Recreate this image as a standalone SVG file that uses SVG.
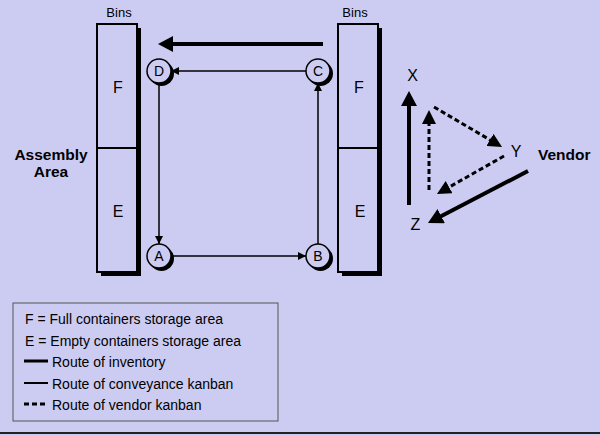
<svg xmlns="http://www.w3.org/2000/svg" width="600" height="436" viewBox="0 0 600 436">
<defs>
<style>
text{font-family:"Liberation Sans",Arial,sans-serif;fill:#000}
.bin{fill:#CCCCF2;stroke:#000;stroke-width:2}
.shadow{fill:#000}
.node{fill:#CCCCF2;stroke:#000;stroke-width:1.5}
.thin{stroke:#000;stroke-width:1.5;fill:none}
.thick{stroke:#000;stroke-width:4;fill:none}
.dash{stroke:#000;stroke-width:3;stroke-dasharray:5 3;fill:none}
.lbl{font-size:14px;text-anchor:middle}
.big{font-size:16px;text-anchor:middle}
.xyz{font-size:16px;text-anchor:middle}
.bins{font-size:13px;text-anchor:middle}
.bold{font-weight:bold;font-size:15.5px}
.leg{font-size:14px}
</style>
<marker id="ahThin" markerUnits="userSpaceOnUse" markerWidth="9" markerHeight="8" refX="8" refY="4" orient="auto"><path d="M0,0 L8,4 L0,8 z" fill="#000"/></marker>
<marker id="ahThick" markerUnits="userSpaceOnUse" markerWidth="16" markerHeight="16" refX="3" refY="8" orient="auto"><path d="M0,0 L15,8 L0,16 z" fill="#000"/></marker>
<marker id="ahDash" markerUnits="userSpaceOnUse" markerWidth="15" markerHeight="14" refX="2" refY="7" orient="auto"><path d="M0,0 L14,7 L0,14 z" fill="#000"/></marker>
</defs>
<rect x="0" y="0" width="600" height="436" fill="#CCCCF2"/>

<g id="bins-assembly">
<rect class="shadow" x="101" y="28" width="40" height="248"/>
<rect class="bin" x="97" y="24" width="40" height="248"/>
<line x1="97" y1="148" x2="137" y2="148" stroke="#000" stroke-width="2"/>
<text class="bins" x="119" y="17">Bins</text>
<text class="big" x="118" y="93">F</text>
<text class="big" x="118" y="217">E</text>
</g>

<g id="bins-vendor">
<rect class="shadow" x="342" y="28" width="40" height="248"/>
<rect class="bin" x="338" y="24" width="40" height="248"/>
<line x1="338" y1="148" x2="378" y2="148" stroke="#000" stroke-width="2"/>
<text class="bins" x="355" y="17">Bins</text>
<text class="big" x="359" y="93">F</text>
<text class="big" x="360" y="217">E</text>
</g>

<g id="assembly-label">
<text class="bold" x="51" y="160" text-anchor="middle">Assembly</text>
<text class="bold" x="51" y="177" text-anchor="middle">Area</text>
</g>

<g id="vendor-label">
<text class="bold" x="538" y="160">Vendor</text>
</g>

<g id="node-D">
<circle class="shadow" cx="161.5" cy="73.5" r="12.5"/>
<circle class="node" cx="159" cy="71" r="12"/>
<text class="lbl" x="159" y="76">D</text>
</g>
<g id="node-C">
<circle class="shadow" cx="320.5" cy="73.5" r="12.5"/>
<circle class="node" cx="318" cy="71" r="12"/>
<text class="lbl" x="318" y="76">C</text>
</g>
<g id="node-A">
<circle class="shadow" cx="161.5" cy="258.5" r="12.5"/>
<circle class="node" cx="159" cy="256" r="12"/>
<text class="lbl" x="159" y="261">A</text>
</g>
<g id="node-B">
<circle class="shadow" cx="320.5" cy="258.5" r="12.5"/>
<circle class="node" cx="318" cy="256" r="12"/>
<text class="lbl" x="318" y="261">B</text>
</g>

<g id="node-X"><text class="xyz" x="412.5" y="81">X</text></g>
<g id="node-Y"><text class="xyz" x="516" y="157">Y</text></g>
<g id="node-Z"><text class="xyz" x="415.5" y="230">Z</text></g>

<g id="connectors">
<line class="thick" x1="323" y1="44" x2="170" y2="44" marker-end="url(#ahThick)"/>
<line class="thin" x1="306" y1="71" x2="171" y2="71" marker-end="url(#ahThin)"/>
<line class="thin" x1="159" y1="83" x2="159" y2="244" marker-end="url(#ahThin)"/>
<line class="thin" x1="171" y1="256" x2="306" y2="256" marker-end="url(#ahThin)"/>
<line class="thin" x1="318" y1="244" x2="318" y2="83" marker-end="url(#ahThin)"/>
<line class="thick" x1="409" y1="205" x2="409" y2="103" marker-end="url(#ahThick)"/>
<line class="thick" x1="528" y1="171" x2="438.6" y2="217.5" marker-end="url(#ahThick)"/>
<line class="dash" x1="434" y1="107" x2="491.7" y2="140.9" marker-end="url(#ahDash)"/>
<line class="dash" x1="504" y1="156" x2="447.4" y2="188.1" marker-end="url(#ahDash)"/>
<line class="dash" x1="429" y1="190" x2="429" y2="122" marker-end="url(#ahDash)"/>
</g>

<g id="legend">
<rect x="13" y="303" width="265" height="118" fill="none" stroke="#555" stroke-width="1"/>
<text class="leg" x="25" y="324">F = Full containers storage area</text>
<text class="leg" x="25" y="346">E = Empty containers storage area</text>
<line x1="24" y1="361" x2="48" y2="361" stroke="#000" stroke-width="3"/>
<text class="leg" x="52" y="367">Route of inventory</text>
<line x1="24" y1="383" x2="48" y2="383" stroke="#000" stroke-width="2"/>
<text class="leg" x="52" y="389">Route of conveyance kanban</text>
<line x1="24" y1="404" x2="48" y2="404" stroke="#000" stroke-width="3" stroke-dasharray="5 3"/>
<text class="leg" x="52" y="410">Route of vendor kanban</text>
</g>

<line x1="0" y1="433" x2="600" y2="433" stroke="#222" stroke-width="2"/>
</svg>
